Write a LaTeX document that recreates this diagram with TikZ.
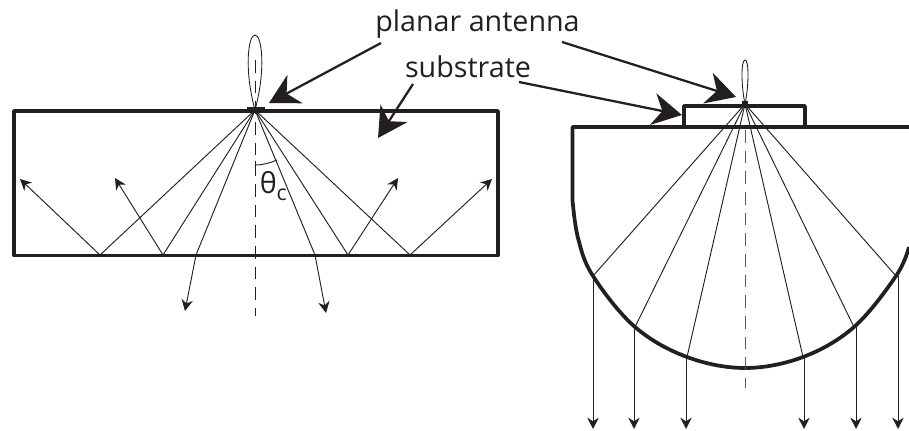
\documentclass[tikz,border=0pt]{standalone}
\usepackage{fontspec}
\setmainfont{Open Sans}
\usepackage{tikz}
\usetikzlibrary{arrows.meta, positioning, calc}
\definecolor{inkblack}{HTML}{231F20}
\tikzset{
  wall/.style={inkblack, line width=2.8pt, line join=round},
  ray/.style={inkblack, line width=0.7pt},
  rayout/.style={inkblack, line width=0.7pt, -{Stealth[length=8.5pt,width=8.5pt]}},
  pointer/.style={inkblack, line width=1.7pt, -{Stealth[length=22pt,width=24pt,inset=7pt]}},
  normalline/.style={inkblack, line width=0.75pt, dash pattern=on 9.5pt off 6pt},
  lobe/.style={inkblack, line width=0.65pt},
  label/.style={inkblack, font=\fontsize{21.5}{24}\selectfont, inner sep=0pt}
}
\begin{document}
\begin{tikzpicture}[x=0.75pt, y=-0.75pt]
  \useasboundingbox (0,0) rectangle (909,431);

  % Planar slab on the left
  \draw[wall] (14,111) rectangle (498,255.5);
  \fill[inkblack] (247,107.5) rectangle (265,112);
  \coordinate (feedA) at (255,110);

  % Radiation lobe and normal
  \draw[lobe] (feedA) .. controls (244,70) and (248,35) .. (255,35)
    .. controls (262,35) and (266,70) .. (feedA);
  \draw[normalline] (255,60) -- (255,316);

  % Rays that hit the lower face
  \foreach \name/\hit/\tip in {a/100/{20,179}, b/163/{115,178}, c/348/{398,178}, d/410/{492,179}}{
    \coordinate (hit\name) at (\hit,255);
    \coordinate (tip\name) at (\tip);
    \draw[ray] (feedA) -- (hit\name);
    \draw[rayout] (hit\name) -- (tip\name);
  }
  \coordinate (hite) at (196,255);
  \coordinate (hitf) at (315,255);
  \coordinate (tipe) at (185,311);
  \coordinate (tipf) at (326,313);
  \draw[ray] (feedA) -- (hite);
  \draw[ray] (feedA) -- (hitf);
  \draw[rayout] (hite) -- (tipe);
  \draw[rayout] (hitf) -- (tipf);

  % Critical angle
  \draw[ray] (255,161) -- (255,169);
  \draw[ray] (255,165) .. controls (263,165) and (270,163) .. (277,160);
  \node[label, anchor=west] (angle) at (259.5,186) {θ\raisebox{-5pt}{\fontsize{16}{16}\selectfont c}};

  % Hemispherical lens on the right
  \draw[wall] (909,127) -- (572.5,127) -- (572.5,200)
    plot[smooth, tension=0.6] coordinates {(572.5,200) (578,238) (593,276) (635,327) (687,357) (745,368) (803,357) (854,327) (896,276) (909,247)};
  \draw[wall] (684,127) -- (684,106) -- (805,106) -- (805,127);
  \fill[inkblack] (742,101) rectangle (748,106);
  \coordinate (feedB) at (745,104);
  \draw[lobe] (feedB) .. controls (741,85) and (741,60) .. (745,60)
    .. controls (749,60) and (749,85) .. (feedB);
  \draw[normalline, inkblack!75] (745,130) -- (745,388);

  % Rays through the lens
  \foreach \name/\hx/\hy/\ox in {g/593/276/593, h/635/327/634, i/687/357/686, j/803/357/804, k/854/327/856, l/896/276/898}{
    \coordinate (lens\name) at (\hx,\hy);
    \coordinate (out\name) at (\ox,429);
    \draw[ray] (feedB) -- (lens\name);
    \draw[rayout] (\ox,\hy) -- (out\name);
  }

  % Labels and pointers
  \node[label] (antenna) at (477.5,24) {planar antenna};
  \node[label] (substrate) at (468,67) {substrate};
  \coordinate (antennaleft) at (381,43);
  \coordinate (antennaright) at (562,42);
  \coordinate (substrateleft) at (413,84);
  \coordinate (substrateright) at (519,82);
  \draw[pointer] (antennaleft) -- (269,103);
  \draw[pointer] (substrateleft) -- (378,138);
  \draw[pointer] (antennaright) -- (736,97);
  \draw[pointer] (substrateright) -- (682,115);
\end{tikzpicture}
\end{document}
